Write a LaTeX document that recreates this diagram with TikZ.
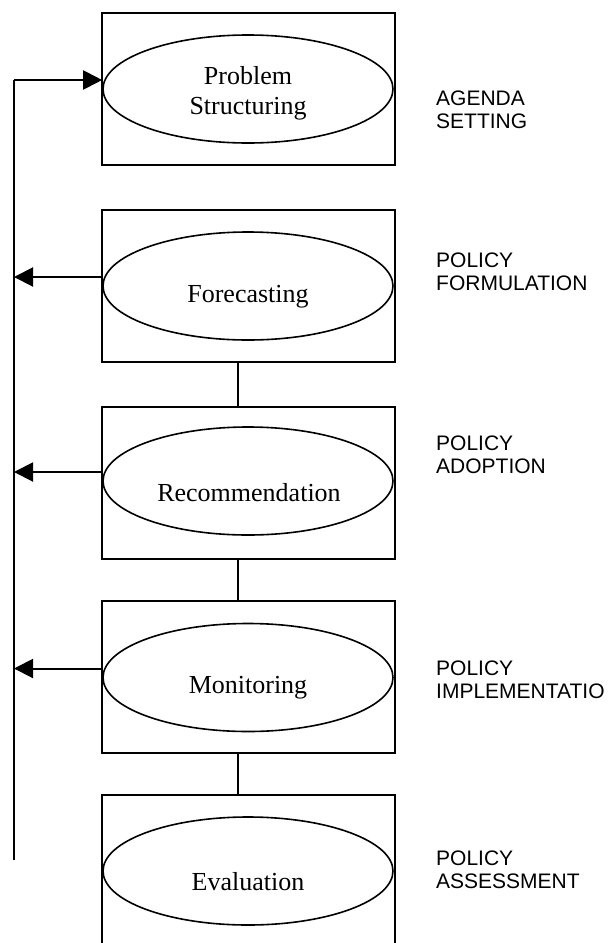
\documentclass[tikz,border=0pt]{standalone}
\usepackage{fontspec}
\setmainfont{Liberation Serif}
\newfontfamily\labelfont{Liberation Sans}
\usetikzlibrary{shapes.geometric,arrows.meta}

\begin{document}
\begin{tikzpicture}[x=1pt,y=-1pt,
  stagebox/.style={draw, line width=2pt, minimum width=293pt, minimum height=152pt, inner sep=0pt},
  stageoval/.style={draw, ellipse, line width=1.6pt, minimum width=290pt, minimum height=108pt, inner sep=0pt},
  stagetext/.style={font=\fontsize{26}{30}\selectfont, align=center, inner sep=0pt},
  phaselabel/.style={anchor=west, align=left, inner sep=0pt, font=\labelfont\fontsize{21}{23}\selectfont},
  feed/.style={line width=2pt},
  feedarrow/.style={-{Triangle[length=19pt,width=19pt]}}]
  \clip (0,0) rectangle (613,943);
  % stages
  \node[stagebox] (b1) at (248,89) {};
  \node[stageoval] (e1) at (248,89) {};
  \node[stagetext] (t1) at (248,93) {Problem\\Structuring};
  \node[stagebox] (b2) at (248,285.5) {};
  \node[stageoval] (e2) at (248,286) {};
  \node[stagetext] (t2) at (248,297) {Forecasting};
  \node[stagebox] (b3) at (248,483) {};
  \node[stageoval] (e3) at (248,481) {};
  \node[stagetext] (t3) at (249,493) {Recommendation};
  \node[stagebox] (b4) at (248,677) {};
  \node[stageoval] (e4) at (248,677.5) {};
  \node[stagetext] (t4) at (248,688) {Monitoring};
  \node[stagebox] (b5) at (248,871) {};
  \node[stageoval] (e5) at (248,871) {};
  \node[stagetext] (t5) at (248,882) {Evaluation};
  % links between stages
  \draw[feed] ([xshift=-10pt]b2.south) -- ([xshift=-10pt]b3.north);
  \draw[feed] ([xshift=-10pt]b3.south) -- ([xshift=-10pt]b4.north);
  \draw[feed] ([xshift=-10pt]b4.south) -- ([xshift=-10pt]b5.north);
  % feedback loop
  \coordinate (fbtop) at (14,80);
  \coordinate (fbend) at (14,860);
  \draw[feed] (fbend) -- (fbtop);
  \draw[feed,feedarrow] (fbtop) -- ([yshift=9pt]e1.west);
  \draw[feed,feedarrow] ([yshift=9pt]e2.west) -- ([yshift=9pt]e2.west -| fbtop);
  \draw[feed,feedarrow] ([yshift=9pt]e3.west) -- ([yshift=9pt]e3.west -| fbtop);
  \draw[feed,feedarrow] ([yshift=9pt]e4.west) -- ([yshift=9pt]e4.west -| fbtop);
  % phases
  \node[phaselabel] (l1) at (436,110) {AGENDA\\SETTING};
  \node[phaselabel] (l2) at (436,272) {POLICY\\FORMULATION};
  \node[phaselabel] (l3) at (436,455) {POLICY\\ADOPTION};
  \node[phaselabel] (l4) at (436,680) {POLICY\\IMPLEMENTATIO};
  \node[phaselabel] (l5) at (436,870) {POLICY\\ASSESSMENT};
\end{tikzpicture}
\end{document}
